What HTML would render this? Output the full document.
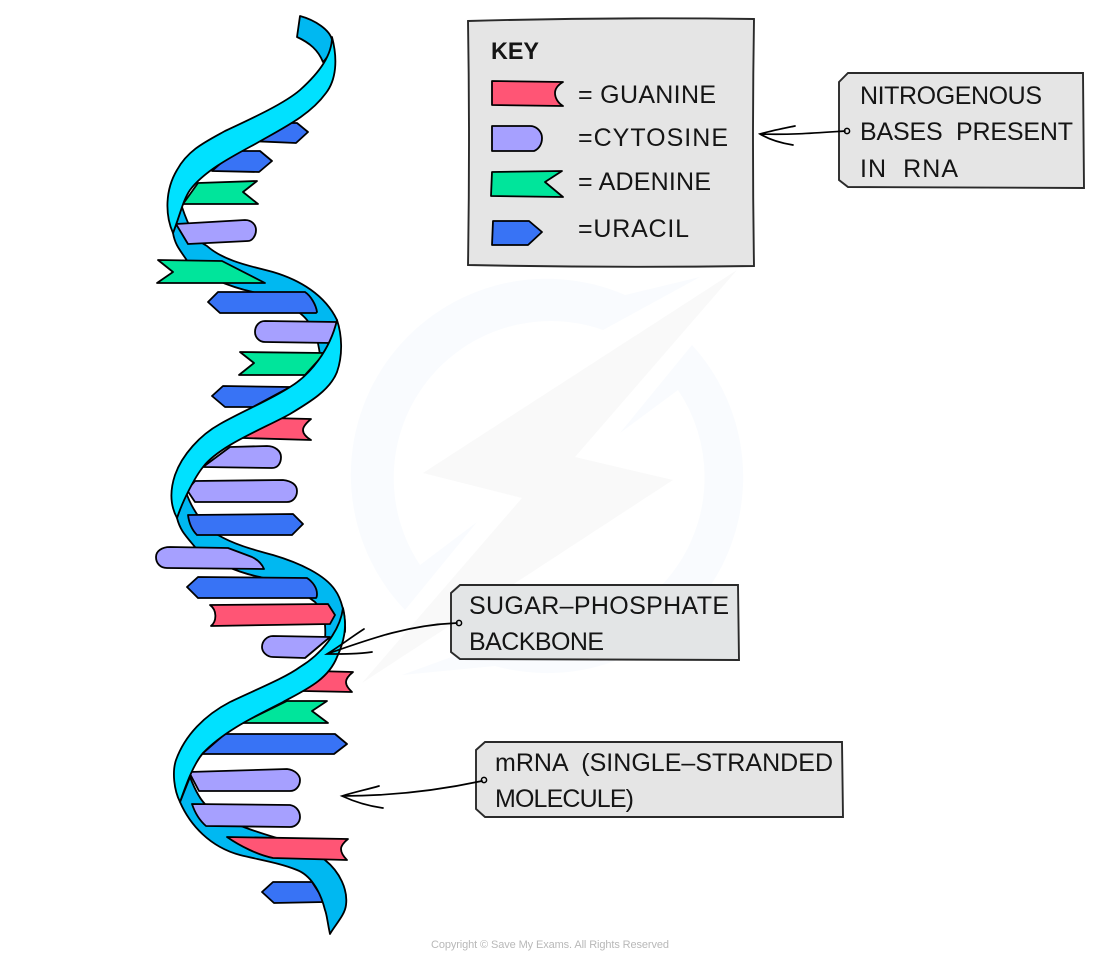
<!DOCTYPE html>
<html><head><meta charset="utf-8"><style>
html,body{margin:0;padding:0;background:#fff}
svg{display:block}
text{font-family:"Liberation Sans",sans-serif;font-size:25px;fill:#151515}
.s{stroke:#000;stroke-width:1.8;stroke-linejoin:round}
.g{fill:#ff5575}.c{fill:#a6a0ff}.a{fill:#00e59b}.u{fill:#3873f5}
.d{fill:#00b8f1}.l{fill:#00e1ff}
.t{fill:#e5e5e5;stroke:#2a2a2a;stroke-width:1.9}
.n{fill:none;stroke:#000;stroke-width:1.7;stroke-linecap:round}
</style></head><body>
<svg width="1100" height="958" viewBox="0 0 1100 958" xmlns="http://www.w3.org/2000/svg">
<!-- watermark -->
<path fill="#f9fbfe" d="M700,277L625,295A196,196 0 0 0 405,610L477,522L420,565A157,157 0 0 1 603,330Z"/>
<path fill="#f9fbfe" d="M692,345A196,196 0 0 1 495,666L402,675L520,632A157,157 0 0 0 678,390L620,433Z"/>
<path fill="#f9f9f9" d="M737,270L423,473L522,498L362,683L673,480L575,457Z"/>

<!-- lower uracil behind strand -->
<path class="s u" d="M262,892L273,882H312L325,902L274,903Z"/>

<!-- back strands -->
<path class="s d" d="M300,16C315,20 330,30 332,40C333,47 330,55 323,62C318,50 310,43 297,37Z"/>
<path class="s d" d="M182,207C188,225 195,240 207,246C225,262 255,267 273,272C300,280 325,295 337,320L339,345L320,355C318,340 315,330 307,320C295,305 270,298 253,292C230,287 200,275 188,262C180,250 175,245 173,233Z"/>
<path class="s d" d="M186,492C192,510 205,528 218,535C235,545 255,550 273,555C300,563 325,575 335,590C341,598 346,615 345,632L325,640C326,625 325,612 315,602C300,590 280,583 260,577C235,572 210,560 195,547C185,535 180,530 177,518Z"/>
<path class="s d" d="M190,777C195,790 200,800 207,806C220,820 250,830 277,838C300,845 318,852 325,860C340,872 348,890 346,905C345,915 335,925 330,934C327,920 327,915 325,910C320,890 310,875 297,870C280,863 260,860 240,855C210,847 190,825 180,802Z"/>

<!-- bases -->
<path class="s u" d="M285,123L297,123L308,132L296,143L250,141Z"/>
<path class="s u" d="M235,151H260L272,161L259,172L212,171Z"/>
<path class="s a" d="M198,183L257,181L243,192L258,204H183Z"/>
<path class="s c" d="M176,224L245,220C252,220 256,225 256,230C256,236 252,241 248,241L188,244Z"/>
<path class="s a" d="M158,260L222,261L265,283H157L173,272Z"/>
<path class="s u" d="M208,302L218,292H305C311,296 316,305 317,312L316,313L220,313Z"/>
<path class="s c" d="M265,321L337,322L332,343L265,342C259,342 255,337 255,332C255,326 259,321 265,321Z"/>
<path class="s a" d="M240,352L325,353L305,375H239L254,363Z"/>
<path class="s u" d="M212,396L223,386L290,387L253,407H225Z"/>
<path class="s g" d="M270,418L311,419C305,424 303,427 303,430C303,434 306,437 311,440L243,438Z"/>
<path class="s c" d="M230,447L267,446C275,446 281,451 281,457C281,463 278,468 272,468L203,467Z"/>
<path class="s c" d="M187,490L195,481L283,480C292,481 297,485 297,491C297,497 293,502 287,502L195,502Z"/>
<path class="s u" d="M188,515L293,514L303,524L292,535H197C192,530 189,523 188,515Z"/>
<path class="s c" d="M170,547L228,548L252,557C258,560 262,564 264,569L167,568C160,568 156,563 156,557C156,551 162,547 170,547Z"/>
<path class="s u" d="M187,587L198,577L307,578C313,582 317,588 317,594C317,597 316,598 316,598H198Z"/>
<path class="s g" d="M210,605L328,604L335,615L330,624L211,626C217,621 217,610 210,605Z"/>
<path class="s c" d="M273,636L330,637L305,658L273,657C267,657 262,652 262,647C262,641 267,636 273,636Z"/>
<path class="s g" d="M315,671L353,672C348,676 346,679 346,682C346,686 349,689 352,692L303,691Z"/>
<path class="s a" d="M287,701L327,701L312,711L328,723L242,723Z"/>
<path class="s u" d="M225,734H335L347,744L334,754L202,754Z"/>
<path class="s c" d="M189,772L287,769C295,770 300,775 300,780C300,786 296,791 290,791L199,791Z"/>
<path class="s c" d="M192,804L290,805C296,806 300,811 300,817C300,822 296,827 290,827L206,826C199,820 195,813 192,804Z"/>
<path class="s g" d="M227,837L348,839C344,842 341,846 341,849C341,853 344,857 347,860L273,858C258,855 240,846 227,837Z"/>

<!-- front strands -->
<path class="s l" d="M332,37C338,60 336,80 326,93C310,115 285,127 257,143C235,155 205,170 190,190C183,200 180,215 173,233C165,215 165,190 177,170C188,150 205,142 225,131C255,117 285,103 300,90C320,72 332,55 332,37Z"/>
<path class="s l" d="M337,320C342,335 343,355 337,372C330,390 310,402 290,414C265,428 220,445 203,467C195,477 183,500 177,518C170,505 170,490 175,475C182,455 200,435 220,424C245,410 270,400 290,387C310,375 330,350 337,320Z"/>
<path class="s l" d="M343,608C347,625 345,640 337,657C328,680 305,690 283,702C258,715 225,730 203,753C193,765 186,785 180,802C174,790 172,772 176,760C185,735 205,715 230,702C255,690 285,678 300,667C320,655 340,632 343,608Z"/>

<!-- key -->
<path class="t" d="M468,21Q610,17 754,19Q752,140 754,266Q610,268 468,265Q470,140 468,21Z"/>
<text x="491" y="59" textLength="48" lengthAdjust="spacingAndGlyphs" style="font-weight:bold;font-size:24px">KEY</text>
<path class="s g" d="M492,81L563,82C558,85 555,89 555,93C555,98 558,103 563,106L492,105Z"/>
<path class="s c" d="M492,126H530C537,126 542,132 542,138C542,144 539,149 534,151H492Z"/>
<path class="s a" d="M492,172L562,171L545,182L563,197L491,196Z"/>
<path class="s u" d="M493,221H529L542,232L528,245H492Z"/>
<text x="578" y="103" textLength="138">= GUANINE</text>
<text x="578" y="146" textLength="150">=CYTOSINE</text>
<text x="578" y="190" textLength="133">= ADENINE</text>
<text x="578" y="237" textLength="111">=URACIL</text>

<!-- tag 1 -->
<path class="t" d="M839,82L848,73L1083,73L1084,188L848,187L839,180Z"/>
<text x="860" y="104" textLength="182">NITROGENOUS</text>
<text x="860" y="140" textLength="213" xml:space="preserve">BASES  PRESENT</text>
<text x="860" y="177" textLength="98" xml:space="preserve">IN  RNA</text>
<circle cx="847" cy="131" r="2.6" fill="none" stroke="#000" stroke-width="1.5"/>
<path class="n" d="M845,131C815,133 790,135 760,134M795,126C780,129 770,131 760,134C770,140 780,143 793,145"/>

<!-- tag 2 -->
<path class="t" d="M451,593L460,585L738,585L739,660L460,659L451,652Z" style="fill:#e3e5e6"/>
<text x="469" y="614" textLength="260">SUGAR–PHOSPHATE</text>
<text x="469" y="650" textLength="135">BACKBONE</text>
<circle cx="459" cy="623" r="2.6" fill="none" stroke="#000" stroke-width="1.5"/>
<path class="n" d="M457,623C410,625 375,637 327,654M364,629C350,638 340,646 327,654C345,654 358,654 372,652"/>

<!-- tag 3 -->
<path class="t" d="M476,750L485,742L842,742L843,817L485,817L476,809Z"/>
<text x="495" y="771" textLength="338" xml:space="preserve">mRNA  (SINGLE–STRANDED</text>
<text x="495" y="807" textLength="139">MOLECULE)</text>
<circle cx="484" cy="780" r="2.6" fill="none" stroke="#000" stroke-width="1.5"/>
<path class="n" d="M482,781C440,790 395,796 342,796M379,786C365,790 355,792 342,796C355,802 368,806 383,808"/>

<text x="431" y="948" textLength="238" style="font-size:11px;fill:#b8b8b8">Copyright © Save My Exams. All Rights Reserved</text>
</svg>
</body></html>
